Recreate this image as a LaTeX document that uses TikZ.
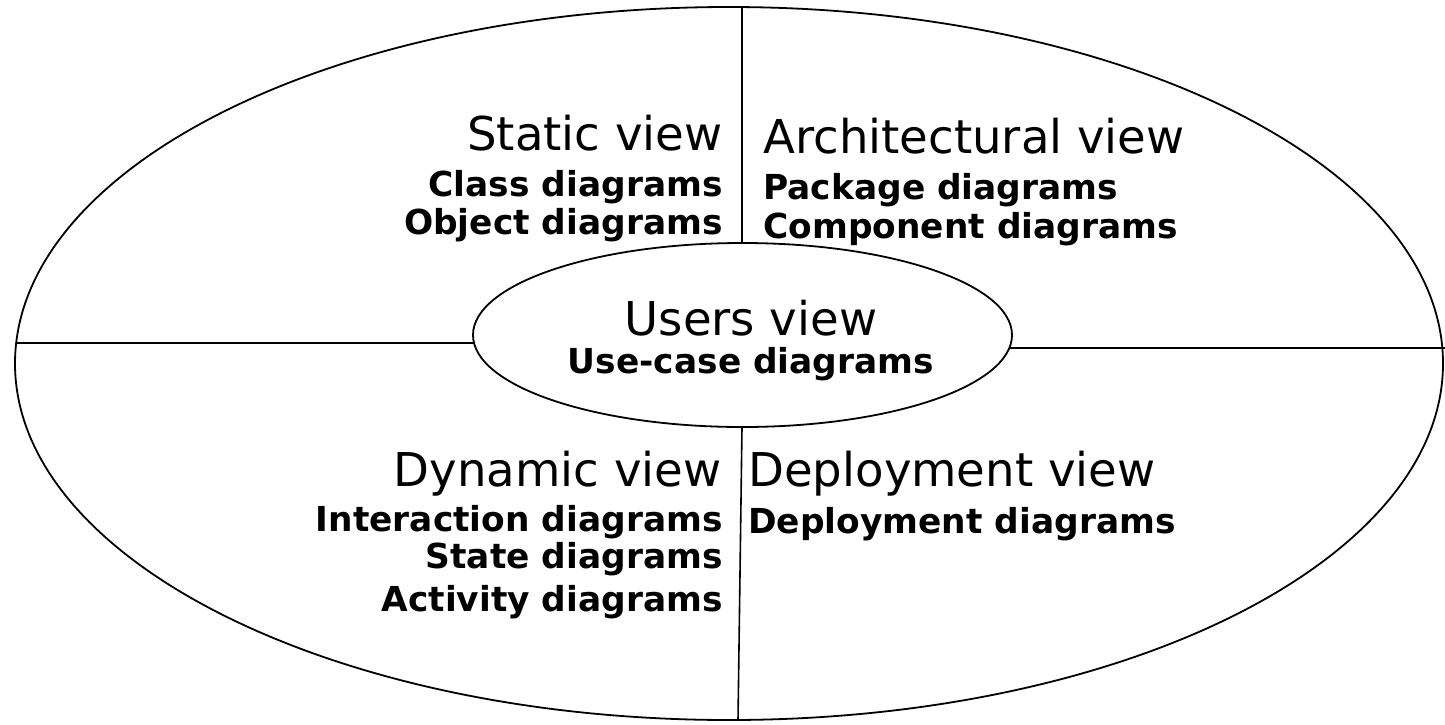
\documentclass[tikz,border=0pt]{standalone}
\usepackage{fontspec}
\setmainfont{DejaVu Sans}
\usetikzlibrary{shapes.geometric}
\tikzset{
  big/.style={font=\fontsize{23.3pt}{28pt}\selectfont, inner sep=0pt},
  small/.style={font=\fontsize{17.2pt}{20pt}\selectfont\bfseries, inner sep=0pt},
  ring/.style={draw, ellipse, line width=0.9pt, inner sep=0pt},
  divider/.style={line width=0.8pt}
}
\begin{document}
\begin{tikzpicture}[x=0.5pt,y=-0.5pt]
\useasboundingbox (0,0) rectangle (1445,724);
\node[ring, minimum width=714pt, minimum height=356.5pt] (outer) at (729,363.5) {};
\node[ring, minimum width=269.5pt, minimum height=92pt] (inner) at (742.5,335) {};
% dividers
\coordinate (ttop) at (742,7.2);
\coordinate (tbot) at (742,243);
\coordinate (btop) at (742,427);
\coordinate (bbot) at (738,720);
\coordinate (lleft) at (16.5,343);
\coordinate (lright) at (473.5,343);
\coordinate (rleft) at (1009.5,348);
\coordinate (rright) at (1445,348);
\draw[divider] (ttop) -- (tbot);
\draw[divider] (btop) -- (bbot);
\draw[divider] (lleft) -- (lright);
\draw[divider] (rleft) -- (rright);
% static view
\node[big, anchor=base east] (sv) at (723,150) {Static view};
\node[small, anchor=base east] (cd) at (723,196) {Class diagrams};
\node[small, anchor=base east] (od) at (723,234) {Object diagrams};
% architectural
\node[big, anchor=base west] (av) at (763,153) {Architectural view};
\node[small, anchor=base west] (pd) at (763,199) {Package diagrams};
\node[small, anchor=base west] (cmp) at (763,238) {Component diagrams};
% users
\node[big, anchor=base] (uv) at (751,335) {Users view};
\node[small, anchor=base] (ucd) at (751,373) {Use-case diagrams};
% dynamic
\node[big, anchor=base east] (dv) at (722,486) {Dynamic view};
\node[small, anchor=base east] (id) at (723,531) {Interaction diagrams};
\node[small, anchor=base east] (sd) at (723,568) {State diagrams};
\node[small, anchor=base east] (ad) at (723,611) {Activity diagrams};
% deployment
\node[big, anchor=base west] (dpv) at (748,486) {Deployment view};
\node[small, anchor=base west] (dpd) at (748,533) {Deployment diagrams};
\end{tikzpicture}
\end{document}
